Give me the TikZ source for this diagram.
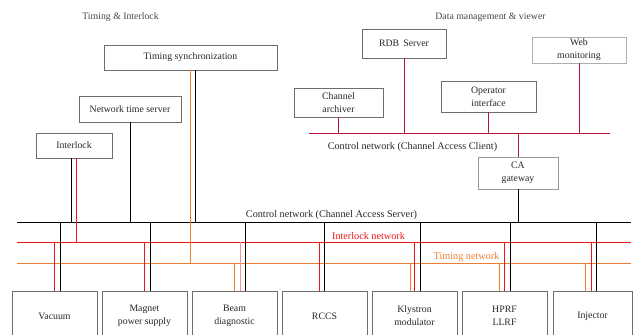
\documentclass[tikz,border=0pt]{standalone}
\usepackage{fontspec}
\setmainfont{Liberation Serif}
\usetikzlibrary{calc,positioning}
\definecolor{ink}{RGB}{40,40,40}
\definecolor{boxline}{RGB}{110,110,110}
\definecolor{titletext}{RGB}{70,70,70}
\definecolor{ilkred}{RGB}{240,20,20}
\definecolor{clientred}{RGB}{185,20,55}
\definecolor{timorange}{RGB}{237,125,49}
\tikzset{
    unitbox/.style={
        rectangle,
        draw=boxline,
        line width=0.6pt,
        fill=white,
        text=ink,
        align=center,
        inner sep=1pt,
        font=\fontsize{9.8}{13}\selectfont
    },
    devicebox/.style={
        unitbox,
        minimum width=85pt,
        minimum height=50pt
    },
    grouptitle/.style={
        text=titletext,
        font=\fontsize{9.8}{12}\selectfont
    },
    netlabel/.style={
        text=ink,
        font=\fontsize{10.2}{12}\selectfont,
        inner sep=0pt
    },
    srvlink/.style={
        draw=black,
        line width=0.8pt
    },
    ilklink/.style={
        draw=ilkred,
        line width=0.8pt
    },
    timlink/.style={
        draw=timorange,
        line width=0.8pt
    },
    clilink/.style={
        draw=clientred,
        line width=0.8pt
    }
}

\begin{document}
\begin{tikzpicture}[x=1pt, y=-1pt]

\useasboundingbox (0,0) rectangle (638,335);
\clip (0,0) rectangle (638,335);

% Group titles
\node[grouptitle] (ttiming) at (120.5, 17) {Timing \& Interlock};
\node[grouptitle] (tdata) at (490.5, 17) {Data management \& viewer};

% Network buses
\coordinate (cliL) at (309, 133);
\coordinate (cliR) at (610, 133);
\coordinate (srvL) at (17, 222);
\coordinate (srvR) at (631, 222);
\coordinate (ilkL) at (17, 242);
\coordinate (ilkR) at (631, 242);
\coordinate (timL) at (17, 263);
\coordinate (timR) at (631, 263);

\draw[clilink] (cliL) -- (cliR);
\draw[srvlink] (srvL) -- (srvR);
\draw[ilklink] (ilkL) -- (ilkR);
\draw[timlink] (timL) -- (timR);

\node[netlabel] (lcli) at (412.5, 147) {Control network (Channel Access Client)};
\node[netlabel] (lsrv) at (331.5, 215) {Control network (Channel Access Server)};
\node[netlabel, text=ilkred] (lilk) at (368.5, 236.5) {Interlock network};
\node[netlabel, text=timorange] (ltim) at (466.5, 257.5) {Timing network};

% Timing & interlock units
\node[unitbox, minimum width=173pt, minimum height=25pt] (tsync) at (190.5, 57.5) {Timing synchronization};
\node[unitbox, minimum width=102pt, minimum height=26pt] (ntsrv) at (130, 109) {Network time server};
\node[unitbox, minimum width=76pt, minimum height=25pt] (ilock) at (74, 145.5) {Interlock};

\draw[srvlink] ([xshift=-3pt]ilock.south) -- ([xshift=-3pt]ilock.south |- srvL);
\draw[ilklink] ([xshift=2pt]ilock.south) -- ([xshift=2pt]ilock.south |- ilkL);
\draw[srvlink] (ntsrv.south) -- (ntsrv.south |- srvL);
\draw[timlink] (tsync.south) -- (tsync.south |- timL);
\draw[srvlink] ([xshift=5pt]tsync.south) -- ([xshift=5pt]tsync.south |- srvL);

% Data management & viewer units
\node[unitbox, minimum width=84pt, minimum height=29pt] (rdb) at (404, 43.5) {RDB\, Server};
\node[unitbox, draw=boxline!55, minimum width=94pt, minimum height=26pt] (webmon) at (579, 50) {Web\\monitoring};
\node[unitbox, minimum width=89pt, minimum height=29pt] (archiver) at (338.5, 102.5) {Channel\\archiver};
\node[unitbox, minimum width=95pt, minimum height=31pt] (opi) at (488.5, 96.5) {Operator\\interface};
\node[unitbox, draw=boxline!70, minimum width=80pt, minimum height=32pt] (cagw) at (518, 173) {CA\\gateway};

\draw[clilink] (archiver.south) -- (archiver.south |- cliL);
\draw[clilink] (rdb.south) -- (rdb.south |- cliL);
\draw[clilink] (opi.south) -- (opi.south |- cliL);
\draw[clilink] (webmon.south) -- (webmon.south |- cliL);
\draw[clilink] (cagw.north) -- (cagw.north |- cliL);
\draw[srvlink] (cagw.south) -- (cagw.south |- srvL);

% Machine subsystems
\node[devicebox] (vac) at (54.5, 316) {Vacuum};
\node[devicebox] (mps) at (144.5, 316) {Magnet\\power supply};
\node[devicebox] (bdiag) at (234.5, 316) {Beam\\diagnostic};
\node[devicebox] (rccs) at (324.5, 316) {RCCS};
\node[devicebox] (kmod) at (414.5, 316) {Klystron\\modulator};
\node[devicebox] (hprf) at (504.5, 316) {HPRF\\LLRF};
\node[devicebox, minimum width=79pt] (inj) at (592.5, 316) {Injector};

\draw[ilklink] (vac.north) -- (vac.north |- ilkL);
\draw[srvlink] ([xshift=5.5pt]vac.north) -- ([xshift=5.5pt]vac.north |- srvL);

\draw[ilklink] (mps.north) -- (mps.north |- ilkL);
\draw[srvlink] ([xshift=5.5pt]mps.north) -- ([xshift=5.5pt]mps.north |- srvL);

\draw[timlink] (bdiag.north) -- (bdiag.north |- timL);
\draw[ilklink, draw=ilkred!45] ([xshift=5.5pt]bdiag.north) -- ([xshift=5.5pt]bdiag.north |- ilkL);
\draw[srvlink] ([xshift=11pt]bdiag.north) -- ([xshift=11pt]bdiag.north |- srvL);

\draw[ilklink] ([xshift=-5.5pt]rccs.north) -- ([xshift=-5.5pt]rccs.north |- ilkL);
\draw[srvlink] (rccs.north) -- (rccs.north |- srvL);

\draw[timlink] ([xshift=-4.5pt]kmod.north) -- ([xshift=-4.5pt]kmod.north |- timL);
\draw[ilklink] (kmod.north) -- (kmod.north |- ilkL);
\draw[srvlink] ([xshift=5.5pt]kmod.north) -- ([xshift=5.5pt]kmod.north |- srvL);

\draw[timlink] ([xshift=-5.5pt]hprf.north) -- ([xshift=-5.5pt]hprf.north |- timL);
\draw[ilklink] (hprf.north) -- (hprf.north |- ilkL);
\draw[srvlink] ([xshift=5.5pt]hprf.north) -- ([xshift=5.5pt]hprf.north |- srvL);

\draw[timlink] ([xshift=-7.5pt]inj.north) -- ([xshift=-7.5pt]inj.north |- timL);
\draw[ilklink] ([xshift=-1.5pt]inj.north) -- ([xshift=-1.5pt]inj.north |- ilkL);
\draw[srvlink] ([xshift=3.5pt]inj.north) -- ([xshift=3.5pt]inj.north |- srvL);

\end{tikzpicture}
\end{document}
